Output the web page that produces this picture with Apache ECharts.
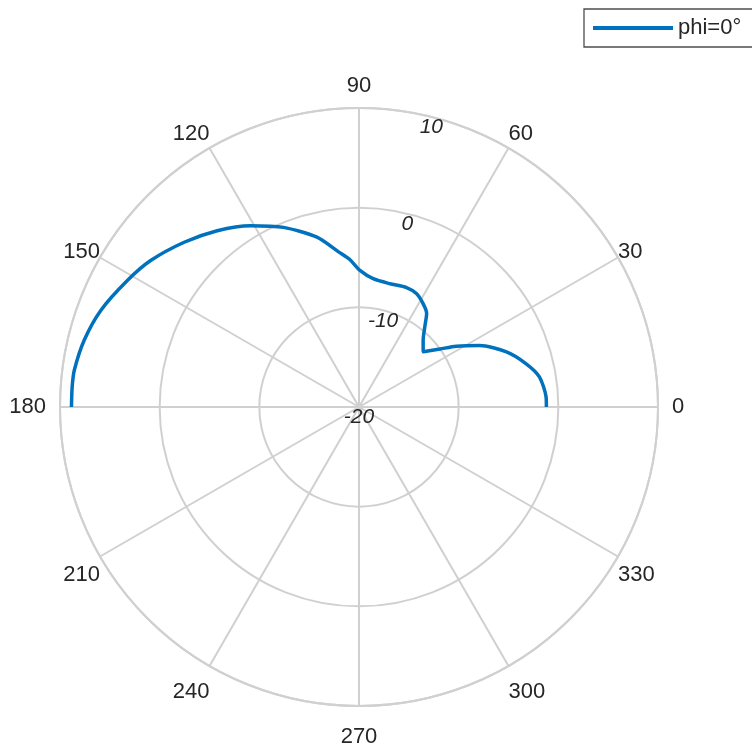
<!DOCTYPE html>
<html><head><meta charset="utf-8">
<script src="https://cdn.jsdelivr.net/npm/echarts@6/dist/echarts.min.js"></script>
<style>html,body{margin:0;padding:0;background:#fff}#c{width:752px;height:749px}</style>
</head><body><div id="c"></div>
<script>
// Angle (degrees) of each sample
const angles = [0,3,9.5,14.6,20.5,27,32,35.6,40.7,46.2,50.6,54.2,58.2,63,68.3,75.9,83.7,89.6,93.5,97.5,103.9,112.8,120.9,128.8,136.7,144.9,151.3,159.5,166.3,172.6,176,180];
// Gain (dB) at each angle
const gainDb = [-1.2,-1.2,-1.65,-2.7,-4.2,-6.4,-8.5,-10.0,-11.5,-10.7,-9.6,-8.4,-7.8,-7.25,-7.1,-7.25,-7.05,-6.3,-5.2,-4.3,-2.45,-0.45,1.2,2.7,4.1,5.55,6.47,7.66,8.37,8.8,8.85,8.85];
const seriesName = 'phi=0°';
const rMin = -20, rMax = 10, rStep = 10;
const thetaStep = 30;

const gridColor = '#d0d0d0';
const textColor = '#262626';
const font = 'Liberation Sans, Arial, sans-serif';
const center = [359, 407];
const radius = 299;

const isCardinal = v => v % 90 === 0;
// per-label line-height style keys (fine vertical placement)
const labelKey = {0:'m',30:'d5',60:'u3',90:'d3',120:'u3',150:'d5',180:'m',210:'t7',240:'t15',270:'t6',300:'t15',330:'t7'};
const base = {color: textColor, fontFamily: font, fontSize: 22};
const rich = {
  m: Object.assign({lineHeight: 22}, base),
  d5: Object.assign({lineHeight: 12}, base),
  u3: Object.assign({lineHeight: 28}, base),
  d3: Object.assign({lineHeight: 16}, base),
  t7: Object.assign({lineHeight: 36}, base),
  t15: Object.assign({lineHeight: 52}, base),
  t6: Object.assign({lineHeight: 34}, base)
};
const fmt = v => '{' + labelKey[v] + '|' + v + '}';

const chart = echarts.init(document.getElementById('c'));
chart.setOption({
  backgroundColor: '#fff',
  animation: false,
  legend: {
    data: [{name: seriesName, icon: 'rect'}],
    left: 584, top: 9,
    padding: [8, 24, 8, 9],
    itemWidth: 80, itemHeight: 4, itemGap: 4,
    borderColor: '#4d4d4d', borderWidth: 1.3,
    backgroundColor: '#fff',
    textStyle: {fontFamily: font, fontSize: 22, color: textColor}
  },
  polar: [
    {center: center, radius: radius},
    {center: center, radius: radius},
    {center: center, radius: radius}
  ],
  angleAxis: [
    {
      polarIndex: 0, type: 'value', min: 0, max: 360, interval: thetaStep,
      startAngle: 0, clockwise: false,
      axisLine: {show: true, lineStyle: {color: gridColor, width: 2}},
      axisTick: {show: false},
      splitLine: {show: true, lineStyle: {color: gridColor, width: 2}},
      axisLabel: Object.assign({
        show: true, margin: 14, rich: rich,
        formatter: v => (v !== 360 && isCardinal(v) ? fmt(v) : '')
      }, base)
    },
    {
      polarIndex: 1, type: 'value', min: 0, max: 360, startAngle: 76, clockwise: false, show: false
    },
    {
      polarIndex: 2, type: 'value', min: 0, max: 360, interval: thetaStep,
      startAngle: 0, clockwise: false,
      axisLine: {show: false}, axisTick: {show: false}, splitLine: {show: false},
      axisLabel: Object.assign({
        show: true, margin: 0, rich: rich,
        formatter: v => (v !== 360 && !isCardinal(v) ? fmt(v) : '')
      }, base)
    }
  ],
  radiusAxis: [
    {
      polarIndex: 0, type: 'value', min: rMin, max: rMax, interval: rStep,
      axisLine: {show: false}, axisTick: {show: false}, axisLabel: {show: false},
      splitLine: {show: true, lineStyle: {color: gridColor, width: 2}}
    },
    {
      polarIndex: 1, type: 'value', min: rMin, max: rMax, interval: rStep, z: 5,
      axisLine: {show: false}, axisTick: {show: false}, splitLine: {show: false},
      axisLabel: {
        show: true, margin: 0, align: 'center', verticalAlign: 'top',
        color: textColor, fontFamily: font, fontSize: 21, fontStyle: 'italic'
      }
    },
    {
      polarIndex: 2, type: 'value', min: rMin, max: rMax, show: false
    }
  ],
  series: [{
    name: seriesName, type: 'line', coordinateSystem: 'polar', polarIndex: 0,
    data: angles.map((a, i) => [gainDb[i], a]),
    showSymbol: false, symbol: 'none', smooth: 0.25,
    lineStyle: {color: '#0072BD', width: 3.5},
    itemStyle: {color: '#0072BD'},
    z: 3
  }]
});
</script>
</body></html>
